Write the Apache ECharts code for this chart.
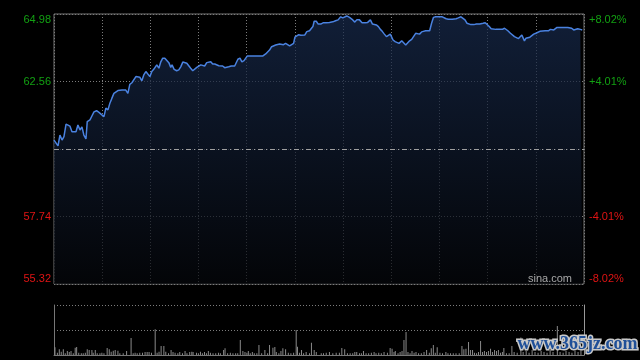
<!DOCTYPE html>
<html>
<head>
<meta charset="utf-8">
<script src="https://cdn.jsdelivr.net/npm/echarts@6/dist/echarts.min.js"></script>
<style>html,body{margin:0;padding:0;background:#000;}#c{width:640px;height:360px;}</style>
</head>
<body>
<div id="c"></div>
<script>
// ---- data (minutes from open, price) ----
const prevClose = 60.15;
const priceMin = 55.32, priceMax = 64.98;
const leftTickLabels = ['55.32', '57.74', '', '62.56', '64.98'];
const rightTickLabels = ['-8.02%', '-4.01%', '', '+4.01%', '+8.02%'];

const times = [0,1.2,2.5,3.7,5.0,6.2,7.5,8.7,9.9,11.2,12.4,13.7,14.9,16.2,17.4,18.6,19.9,20.7,22.4,23.6,24.9,26.5,28.2,29.8,31.1,32.3,33.6,34.8,36.0,37.3,38.5,39.8,41.0,42.3,43.5,44.7,46.0,47.2,48.5,49.7,51.0,52.2,53.4,54.7,55.9,57.2,58.4,59.7,60.9,62.1,
64.0,65.3,66.5,67.7,69.0,70.2,71.5,72.7,73.5,74.8,76.4,77.7,78.9,80.2,81.4,82.7,83.9,85.1,86.4,87.6,88.9,90.1,91.4,92.6,93.8,95.1,96.3,97.6,98.8,100.1,
101.3,102.6,103.8,105.0,106.3,107.5,108.8,110.4,112.5,113.7,114.5,115.8,117.0,118.3,119.1,120.4,121.6,122.9,124.9,127.0,130.1,131.8,133.0,134.2,135.5,136.7,138.0,139.2,140.5,141.7,
142.9,144.2,145.4,146.7,147.9,149.2,150.0,151.2,152.4,153.7,154.9,156.2,157.4,159.1,160.3,161.2,162.0,163.3,164.5,166.1,167.8,169.5,171.5,173.6,175.3,176.9,178.5,179.8,181.0,182.3,
184.0,185.6,187.3,188.5,190.2,191.8,193.9,195.3,197.0,198.3,199.5,200.7,202.0,203.2,204.5,205.7,207.0,208.2,209.4,210.2,211.1,212.4,213.6,214.8,215.6,216.5,217.7,219.0,220.2,221.4,
222.7,223.9,225.2,226.4,227.6,228.9,230.1,231.4,232.6,233.9,235.1,236.3,237.6,238.8,240.1,241.8,243.0,244.2,245.5,246.7,248.0,249.2,250.4,251.7,253.4,254.6,255.9,257.1,258.3,259.6,
261.4,263.0,265.1,267.2,268.5,269.7,271.0,272.2,273.4,275.1,277.2,279.2,280.5,281.3,282.6,283.4,284.2,285.4,286.7,287.9,289.2,290.4,291.3,292.1,292.9,293.8,295.0,296.3,297.5,298.7,
300.0,301.2,302.5,303.7,305.8,307.8,309.1,309.9,311.2,312.4,313.2,314.9,316.1,317.4,318.6,319.9,321.1,322.3,323.6,324.8,326.1,327.7,328.9];

const prices = [60.47,60.41,60.26,60.65,60.47,60.59,61.04,61.01,60.97,60.77,60.72,60.77,61.01,60.83,60.94,60.65,60.51,61.13,61.19,61.33,61.48,61.52,61.45,61.37,61.31,61.61,61.55,61.79,61.96,62.14,62.16,62.24,62.20,62.26,62.32,62.26,62.14,62.46,62.52,62.59,62.74,62.76,62.72,62.59,62.80,62.92,62.86,62.74,62.92,63.00,
63.16,63.04,63.27,63.40,63.40,63.33,63.24,63.07,63.16,63.00,62.95,62.98,63.09,63.26,63.19,63.22,63.16,63.04,62.95,63.00,63.07,63.12,63.16,63.09,63.12,63.24,63.25,63.27,63.19,63.19,
63.18,63.13,63.16,63.12,63.06,63.02,63.09,63.12,63.12,63.12,63.36,63.40,63.27,63.31,63.36,63.48,63.43,63.48,63.48,63.48,63.48,63.55,63.57,63.69,63.81,63.88,63.87,63.81,63.91,63.84,
63.88,63.93,63.88,63.84,63.84,63.93,64.15,64.19,64.24,64.22,64.26,64.23,64.35,64.38,64.38,64.53,64.72,64.72,64.62,64.62,64.67,64.67,64.68,64.70,64.74,64.77,64.88,64.84,64.91,64.91,
64.86,64.79,64.69,64.77,64.77,64.67,64.67,64.68,64.77,64.62,64.59,64.59,64.53,64.43,64.35,64.26,64.17,64.19,64.26,64.19,64.05,63.99,63.98,63.93,63.90,64.02,63.95,63.87,63.87,64.02,
64.07,64.11,64.29,64.26,64.26,64.34,64.41,64.38,64.31,64.38,64.65,64.86,64.88,64.86,64.88,64.88,64.84,64.81,64.79,64.81,64.79,64.81,64.81,64.84,64.88,64.88,64.77,64.65,64.72,64.60,
64.60,64.62,64.62,64.65,64.67,64.65,64.53,64.45,64.41,64.43,64.43,64.43,64.47,64.41,64.38,64.43,64.29,64.22,64.17,64.12,64.10,64.15,64.23,64.22,64.02,64.11,64.17,64.15,64.11,64.26,
64.29,64.29,64.36,64.38,64.38,64.38,64.43,64.47,64.41,64.38,64.50,64.50,64.53,64.50,64.53,64.50,64.53,64.47,64.41,64.45,64.45,64.43,64.41];

const volTimes = [0.6,2.1,3.3,4.5,5.8,7.0,8.3,9.5,10.6,12.0,13.2,14.1,15.4,17.0,18.2,19.5,20.7,21.9,23.6,24.4,
25.7,26.9,28.6,29.8,31.1,33.1,34.4,35.6,36.9,38.1,39.8,41.0,43.1,45.2,48.0,49.3,50.5,51.8,53.4,55.1,
56.7,58.0,59.2,60.7,63.0,64.2,65.4,66.7,68.4,69.6,71.3,72.9,74.1,75.4,77.1,78.3,80.0,81.6,82.8,84.5,
85.8,86.6,88.7,89.9,91.2,92.4,93.7,94.9,96.1,97.4,99.0,100.7,102.4,103.6,105.6,106.5,108.1,109.8,111.4,113.1,
114.4,116.0,117.6,118.9,120.1,121.0,122.2,123.5,124.7,126.3,127.6,129.3,131.3,133.0,134.2,136.3,137.5,138.4,140.0,141.3,
142.5,144.2,145.9,147.5,149.2,150.8,151.6,152.9,154.1,155.4,157.0,159.1,160.3,162.0,163.3,166.4,167.8,169.5,171.5,173.6,
175.7,177.7,179.2,181.0,182.7,184.4,186.0,187.3,188.5,190.2,191.4,192.7,194.3,195.9,197.6,199.3,200.5,202.2,203.8,205.5,
207.6,209.3,210.5,211.7,212.5,214.2,215.5,216.7,217.9,219.2,220.4,221.7,222.9,224.2,225.4,227.0,228.7,230.4,232.0,233.7,
234.9,236.2,237.4,238.6,240.3,241.9,244.0,245.3,246.9,248.6,250.3,252.3,254.0,255.2,256.5,258.1,259.3,260.6,261.8,263.1,
264.3,265.6,266.8,268.0,269.3,270.5,271.8,273.0,274.3,275.5,276.7,278.0,279.2,280.1,281.7,283.4,285.1,286.5,288.4,290.7,
292.1,294.0,295.8,297.7,299.5,301.4,303.3,305.1,307.0,308.9,310.7,313.4,315.1,317.0,318.8,320.7,322.5,324.4,326.3,328.1];

const volValues = [31,9,23,13,23,7,16,12,16,7,29,32,9,7,7,9,23,20,20,9,
20,7,7,9,7,28,23,13,17,20,17,7,7,16,68,7,9,7,9,9,
12,12,12,9,103,9,13,36,36,13,7,20,12,9,7,12,7,16,7,12,
13,12,9,7,13,7,12,7,16,9,7,7,9,7,20,27,7,9,7,7,
7,60,16,12,9,16,7,12,7,7,40,7,20,7,40,29,32,12,7,16,
27,23,9,7,9,100,33,9,20,7,12,7,49,20,12,7,7,9,12,7,
9,9,28,23,7,7,7,12,12,7,7,16,7,7,9,12,7,9,7,12,
9,28,25,12,16,7,12,16,60,92,12,7,16,9,12,7,7,12,20,9,
27,40,9,31,9,7,12,7,7,7,7,7,36,23,25,52,20,20,9,7,
12,56,12,16,12,16,25,12,20,16,20,9,12,28,7,7,36,12,9,70,
12,16,9,20,12,9,16,12,9,20,12,116,12,9,16,12,9,16,12,20];

// ---- build ----
const lineData = times.map((t, i) => [t, prices[i]]);
const volData = volTimes.map((t, i) => [t, volValues[i]]);
const pctMax = (priceMax - prevClose) / prevClose * 100;

const chart = echarts.init(document.getElementById('c'), null, {renderer: 'canvas'});
const green = '#12a012', red = '#e01414';
const dotted = {color: '#7c7c7c', type: [1, 2], width: 1};

chart.setOption({
  backgroundColor: '#000',
  animation: false,
  grid: [
    {left: 54, top: 14, width: 530, height: 270, show: true, borderColor: '#777', borderWidth: 1, backgroundColor: 'transparent'},
    {left: 54, top: 305, width: 530, height: 50}
  ],
  xAxis: [
    {type: 'value', gridIndex: 0, min: 0, max: 330, interval: 30,
     axisLine: {show: false}, axisTick: {show: false}, axisLabel: {show: false},
     splitLine: {show: true, lineStyle: dotted}},
    {type: 'value', gridIndex: 1, min: 0, max: 330, interval: 30,
     axisLine: {show: true, onZero: false, lineStyle: {color: '#777'}}, axisTick: {show: false}, axisLabel: {show: false},
     splitLine: {show: false}}
  ],
  yAxis: [
    {type: 'value', gridIndex: 0, min: priceMin, max: priceMax, interval: (priceMax - priceMin) / 4,
     axisLine: {show: false}, axisTick: {show: false},
     splitLine: {show: true, lineStyle: dotted},
     axisLabel: {
       margin: 3, fontSize: 11, fontFamily: 'Liberation Sans, Arial, sans-serif',
       formatter: (v, i) => leftTickLabels[i],
       color: (v) => (+v > prevClose ? green : red),
       verticalAlignMinLabel: 'bottom', verticalAlignMaxLabel: 'top'
     }},
    {type: 'value', gridIndex: 0, position: 'right', min: -pctMax, max: pctMax, interval: pctMax / 2,
     axisLine: {show: false}, axisTick: {show: false}, splitLine: {show: false},
     axisLabel: {
       margin: 5, fontSize: 11, fontFamily: 'Liberation Sans, Arial, sans-serif',
       formatter: (v, i) => rightTickLabels[i],
       color: (v) => (+v > 0 ? green : red),
       verticalAlignMinLabel: 'bottom', verticalAlignMaxLabel: 'top'
     }},
    {type: 'value', gridIndex: 1, min: 0, max: 200, interval: 100,
     axisLine: {show: true, lineStyle: {color: '#777'}}, axisTick: {show: false}, axisLabel: {show: false},
     splitLine: {show: true, lineStyle: dotted}},
    {type: 'value', gridIndex: 1, position: 'right', min: 0, max: 200, interval: 100,
     axisLine: {show: true, lineStyle: {color: '#999'}}, axisTick: {show: false}, axisLabel: {show: false},
     splitLine: {show: false}}
  ],
  series: [
    {type: 'line', xAxisIndex: 0, yAxisIndex: 0, data: lineData, showSymbol: false, symbol: 'none',
     lineStyle: {color: '#4a82e0', width: 1.5},
     areaStyle: {origin: 'start', color: new echarts.graphic.LinearGradient(0, 0, 0, 1, [
       {offset: 0, color: '#182b4e'}, {offset: 1, color: '#05070b'}])},
     markLine: {silent: true, symbol: 'none', label: {show: false},
       lineStyle: {color: '#a0a0a0', type: [5, 3, 1, 3], width: 1},
       data: [{yAxis: prevClose}]},
     z: 3},
    {type: 'bar', xAxisIndex: 1, yAxisIndex: 2, data: volData, barWidth: 1,
     itemStyle: {color: '#8a8a8a'}}
  ],
  graphic: [
    {type: 'text', right: 68, top: 273, z: 10,
     style: {text: 'sina.com', fill: '#a8a8a8', font: '11px "Liberation Sans", Arial, sans-serif'}},
    {type: 'text', left: 516, top: 334, z: 20,
     style: {text: 'www.365jz.com', fill: '#1f4f98', stroke: '#c8c8c8', lineWidth: 3,
       font: 'bold 18px "Liberation Serif", serif'}}
  ]
});
</script>
</body>
</html>
